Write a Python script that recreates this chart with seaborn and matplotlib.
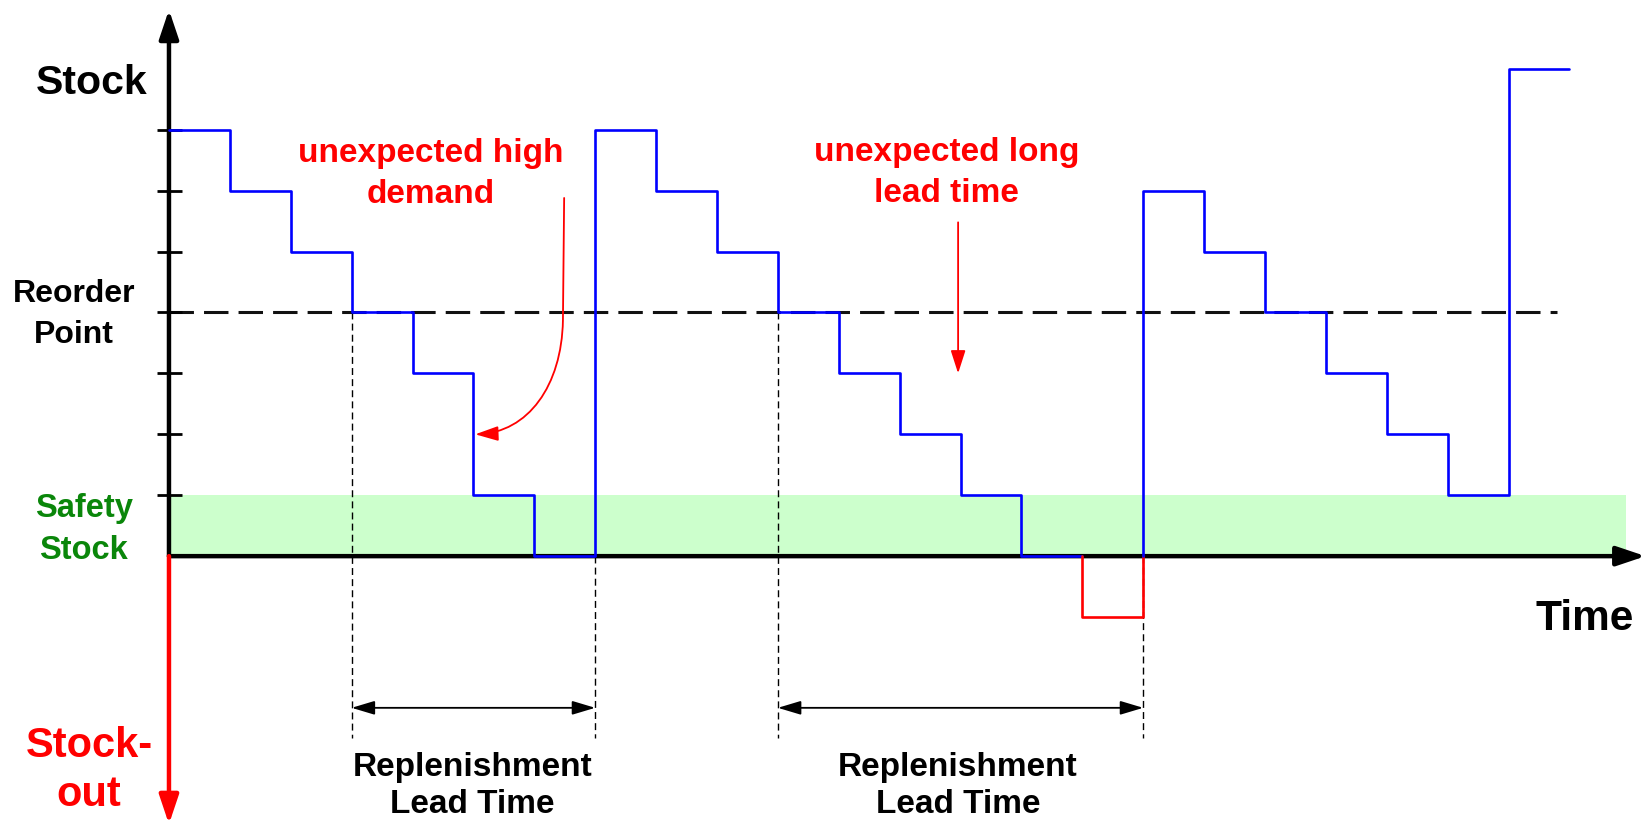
import matplotlib
matplotlib.use("Agg")
import matplotlib.pyplot as plt
from matplotlib.path import Path
from matplotlib.patches import FancyArrowPatch
import seaborn as sns

# ---------------- data ----------------
cycle1_time = [0, 1, 2, 3, 4, 5, 6, 7, 8, 9, 10, 11, 12, 13, 14, 15]
cycle1_stock = [7, 6, 5, 4, 3, 1, 0, 7, 6, 5, 4, 3, 2, 1, 0, 0]
stockout_time = [15, 15, 16, 16]
stockout_stock = [0, -1, -1, 0]
cycle2_time = [16, 16, 17, 18, 19, 20, 21, 22, 23]
cycle2_stock = [0, 6, 5, 4, 3, 2, 1, 8, 8]
reorder_point = 4
safety_stock = 1
stock_ticks = [1, 2, 3, 4, 5, 6, 7]
order_times = [3, 10]
arrival_times = [7, 16]

# ---------------- style ----------------
sns.set_theme(style="white")
plt.rcParams["font.family"] = ["Liberation Sans", "DejaVu Sans"]
plt.rcParams["font.weight"] = "bold"

fig = plt.figure(figsize=(16.48, 8.26), dpi=100)
ax = fig.add_axes([0, 0, 1, 1])
ax.set_xlim(-2.775, 24.29)
ax.set_ylim(-4.43, 9.13)
ax.axis("off")

BLUE = "#0000FF"
RED = "#FF0000"
GREEN = "#0A860A"

t_end = 23.93
# safety stock band
ax.axhspan(0, safety_stock, xmin=0, xmax=1, color="#CCFFCC", zorder=0)
ax.fill_between([0, t_end], 0, safety_stock, color="#CCFFCC", zorder=0, lw=0)
ax.patches[0].remove()

# reorder point dashed line
ax.plot([0, 22.8], [reorder_point, reorder_point], color="#111111", lw=2.2,
        ls=(0, (8, 3.3)), zorder=2)

# ticks on stock axis
ax.hlines(stock_ticks, -0.2, 0.21, color="black", lw=2, zorder=3)

# axes arrows
ax.annotate("", xy=(0, 8.97), xytext=(0, 0),
            arrowprops=dict(arrowstyle="-|>,head_length=1.25,head_width=0.42",
                            lw=3.2, color="black", shrinkA=0, shrinkB=0,
                            mutation_scale=14), zorder=3)
ax.annotate("", xy=(24.25, 0), xytext=(0, 0),
            arrowprops=dict(arrowstyle="-|>,head_length=1.25,head_width=0.42",
                            lw=3.2, color="black", shrinkA=0, shrinkB=0,
                            mutation_scale=14), zorder=3)
ax.annotate("", xy=(0, -4.40), xytext=(0, 0),
            arrowprops=dict(arrowstyle="-|>,head_length=1.25,head_width=0.42",
                            lw=3.2, color=RED, shrinkA=0, shrinkB=0,
                            mutation_scale=14), zorder=3)

# stock lines
sns.lineplot(x=cycle1_time, y=cycle1_stock, drawstyle="steps-post",
             estimator=None, sort=False, color=BLUE, lw=1.9, ax=ax, zorder=5)
sns.lineplot(x=stockout_time, y=stockout_stock, estimator=None, sort=False,
             color=RED, lw=1.9, ax=ax, zorder=5)
sns.lineplot(x=cycle2_time, y=cycle2_stock, drawstyle="steps-post",
             estimator=None, sort=False, color=BLUE, lw=1.9, ax=ax, zorder=5)

# lead time markers
lead_bottom = -2.98
lead_arrow_y = -2.49
for t in order_times:
    ax.plot([t, t], [reorder_point, lead_bottom], color="black", lw=1,
            ls=(0, (5, 3)), zorder=1)
for t in arrival_times:
    ax.plot([t, t], [0, lead_bottom], color="black", lw=1,
            ls=(0, (5, 3)), zorder=1)
for t0, t1 in zip(order_times, arrival_times):
    ax.annotate("", xy=(t1, lead_arrow_y), xytext=(t0, lead_arrow_y),
                arrowprops=dict(arrowstyle="<|-|>,head_length=1.4,head_width=0.42",
                                lw=1.3, color="black", shrinkA=0, shrinkB=0,
                                mutation_scale=10), zorder=4)

# red annotation arrows
curve = Path([(6.49, 5.88), (6.47, 3.87), (6.45, 2.8), (5.9, 2.03), (5.03, 2.0)],
             [Path.MOVETO, Path.LINETO, Path.CURVE4, Path.CURVE4, Path.CURVE4])
ax.add_patch(FancyArrowPatch(path=curve,
                             arrowstyle="-|>,head_length=1.4,head_width=0.45",
                             mutation_scale=10, color=RED, lw=1.3, zorder=6))
ax.annotate("", xy=(12.96, 3.0), xytext=(12.96, 5.48),
            arrowprops=dict(arrowstyle="-|>,head_length=1.4,head_width=0.45",
                            lw=1.3, color=RED, shrinkA=0, shrinkB=0,
                            mutation_scale=10), zorder=6)

# ---------------- text ----------------
def label(lines, x, baselines, size, color="black"):
    for s, y in zip(lines, baselines):
        ax.text(x, y, s, ha="center", va="baseline", fontsize=size,
                fontweight="bold", color=color, zorder=7)

label(["Stock"], -1.27, [7.58], 29.5)
label(["Reorder", "Point"], -1.56, [4.18, 3.50], 23)
label(["Safety", "Stock"], -1.40, [0.64, -0.05], 23.5, GREEN)
label(["Stock-", "out"], -1.31, [-3.30, -4.10], 30, RED)
label(["Time"], 23.25, [-1.215], 30.5)
label(["unexpected high", "demand"], 4.30, [6.47, 5.80], 24, RED)
label(["unexpected long", "lead time"], 12.77, [6.48, 5.82], 24, RED)
label(["Replenishment", "Lead Time"], 4.98, [-3.61, -4.22], 24)
label(["Replenishment", "Lead Time"], 12.96, [-3.61, -4.22], 24)

fig.savefig("out.png", dpi=100)
